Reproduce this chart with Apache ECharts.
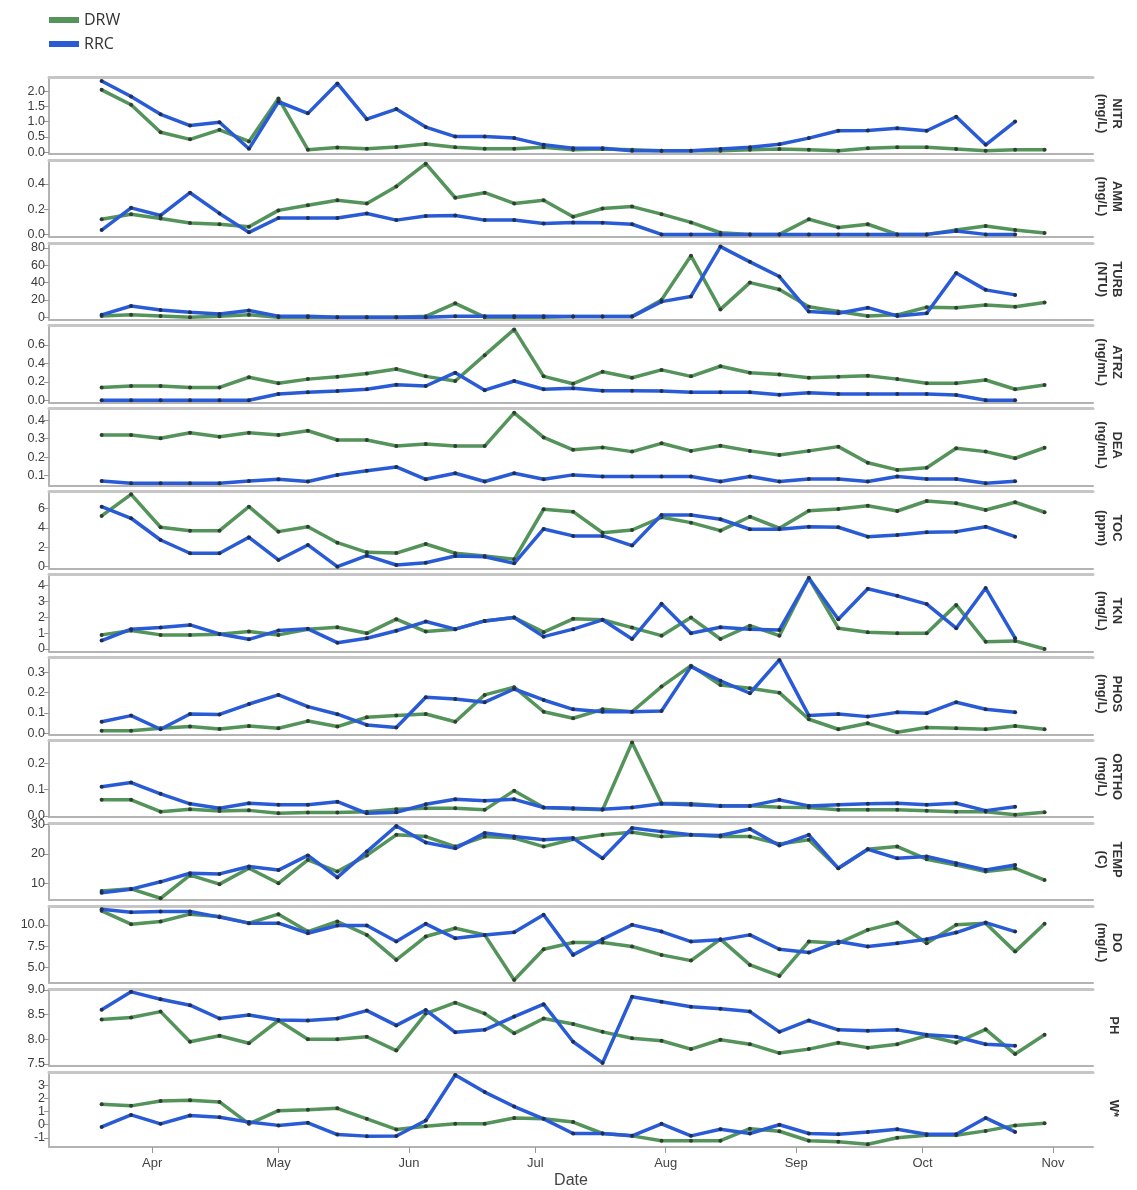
<!DOCTYPE html>
<html>
<head>
<meta charset="UTF-8">
<title>DRW / RRC water quality</title>
<script src="https://cdn.jsdelivr.net/npm/echarts@6/dist/echarts.min.js"></script>
</head>
<body style="margin:0;background:#fff;">
<div id="main" style="width:1137px;height:1190px;"></div>
<script>
// sample dates (weekly), month-day
var dates = ['03-20', '03-27', '04-03', '04-10', '04-17', '04-24', '05-01', '05-08', '05-15', '05-22', '05-29',
    '06-05', '06-12', '06-19', '06-26', '07-03', '07-10', '07-17', '07-24', '07-31', '08-07', '08-14',
    '08-21', '08-28', '09-04', '09-11', '09-18', '09-25', '10-02', '10-09', '10-16', '10-23', '10-30'];

var monthLabels = ['Apr', 'May', 'Jun', 'Jul', 'Aug', 'Sep', 'Oct', 'Nov'];
var monthStarts = ['04-01', '05-01', '06-01', '07-01', '08-01', '09-01', '10-01', '11-01'];

var panelNames = ['NITR', 'AMM', 'TURB', 'ATRZ', 'DEA', 'TOC', 'TKN', 'PHOS', 'ORTHO', 'TEMP', 'DO', 'PH', 'W*'];
var panelUnits = ['(mg/L)', '(mg/L)', '(NTU)', '(ng/mL)', '(ng/mL)', '(ppm)', '(mg/L)', '(mg/L)', '(mg/L)', '(C)', '(mg/L)', '', ''];

// y tick labels of each panel
var yTicks = [
    [0, 0.5, 1, 1.5, 2],
    [0, 0.2, 0.4],
    [0, 20, 40, 60, 80],
    [0, 0.2, 0.4, 0.6],
    [0.1, 0.2, 0.3, 0.4],
    [0, 2, 4, 6],
    [0, 1, 2, 3, 4],
    [0, 0.1, 0.2, 0.3],
    [0, 0.1, 0.2],
    [10, 20, 30],
    [5, 7.5, 10],
    [7.5, 8, 8.5, 9],
    [-1, 0, 1, 2, 3]
];
var yDecimals = [1, 1, 0, 1, 1, 0, 0, 1, 1, 0, 1, 1, 0];
// y extents of each panel
var yMin = [-0.06, -0.02, -3, -0.026, 0.046, -0.19, -0.15, -0.005, -0.005, 4.27, 3.22, 7.46, -1.7];
var yMax = [2.46, 0.59, 86, 0.81, 0.463, 7.75, 4.7, 0.374, 0.288, 30.5, 12.2, 9.02, 4.04];

// DRW values (33 samples), RRC values (32 samples)
var NITR_DRW = [2.04, 1.55, 0.65, 0.42, 0.73, 0.35, 1.76, 0.08, 0.15, 0.11, 0.17, 0.27, 0.16, 0.11, 0.11, 0.16, 0.08, 0.1, 0.08, 0.05, 0.05, 0.05, 0.08, 0.1, 0.08, 0.05, 0.13, 0.16, 0.16, 0.1, 0.05, 0.08, 0.08];
var NITR_RRC = [2.33, 1.82, 1.24, 0.87, 0.98, 0.11, 1.65, 1.27, 2.25, 1.08, 1.41, 0.82, 0.51, 0.51, 0.46, 0.24, 0.13, 0.13, 0.05, 0.05, 0.05, 0.1, 0.16, 0.26, 0.46, 0.7, 0.71, 0.78, 0.7, 1.16, 0.24, 1.0];
var AMM_DRW = [0.12, 0.16, 0.126, 0.09, 0.08, 0.06, 0.19, 0.23, 0.27, 0.245, 0.38, 0.56, 0.29, 0.33, 0.245, 0.27, 0.14, 0.205, 0.22, 0.16, 0.095, 0.013, 0, 0, 0.12, 0.055, 0.08, 0, 0, 0.034, 0.066, 0.034, 0.01];
var AMM_RRC = [0.034, 0.21, 0.15, 0.33, 0.166, 0.016, 0.13, 0.13, 0.13, 0.166, 0.113, 0.145, 0.15, 0.113, 0.113, 0.087, 0.095, 0.092, 0.08, 0, 0, 0, 0, 0, 0, 0, 0, 0, 0, 0.026, 0, 0];
var TURB_DRW = [1.5, 2.7, 1.5, 0, 1, 2.7, 0, 0, 0, 0, 0, 1, 16, 0, 0, 0, 0.7, 0.7, 0.7, 20, 71, 9, 40, 32, 12, 6.5, 1.5, 2.7, 11.5, 11, 14, 12, 17];
var TURB_RRC = [2.7, 13, 8.4, 5.8, 3.8, 7.7, 1, 1, 0, 0, 0, 0, 1, 1, 1, 1, 0.7, 0.7, 0.7, 18, 24, 81.6, 64, 47, 6.5, 4.6, 11, 1.5, 4.6, 51, 31.6, 25.8];
var ATRZ_DRW = [0.14, 0.155, 0.155, 0.14, 0.14, 0.25, 0.185, 0.23, 0.256, 0.29, 0.34, 0.26, 0.21, 0.49, 0.77, 0.26, 0.18, 0.31, 0.245, 0.33, 0.26, 0.37, 0.3, 0.28, 0.245, 0.255, 0.267, 0.23, 0.185, 0.185, 0.22, 0.12, 0.166];
var ATRZ_RRC = [0, 0, 0, 0, 0, 0, 0.068, 0.087, 0.1, 0.12, 0.17, 0.155, 0.3, 0.11, 0.21, 0.12, 0.13, 0.105, 0.105, 0.1, 0.087, 0.087, 0.087, 0.06, 0.083, 0.068, 0.068, 0.068, 0.068, 0.058, 0, 0];
var DEA_DRW = [0.32, 0.32, 0.302, 0.332, 0.31, 0.332, 0.32, 0.343, 0.293, 0.293, 0.26, 0.271, 0.26, 0.26, 0.44, 0.307, 0.24, 0.253, 0.23, 0.275, 0.234, 0.262, 0.234, 0.212, 0.234, 0.257, 0.17, 0.131, 0.143, 0.248, 0.23, 0.194, 0.251];
var DEA_RRC = [0.071, 0.059, 0.059, 0.059, 0.059, 0.071, 0.08, 0.068, 0.104, 0.127, 0.147, 0.08, 0.113, 0.068, 0.113, 0.08, 0.104, 0.095, 0.095, 0.095, 0.095, 0.068, 0.095, 0.068, 0.082, 0.082, 0.068, 0.095, 0.082, 0.082, 0.059, 0.07];
var TOC_DRW = [5.23, 7.46, 4.06, 3.71, 3.71, 6.19, 3.61, 4.12, 2.47, 1.48, 1.4, 2.34, 1.38, 1.1, 0.76, 5.92, 5.67, 3.5, 3.78, 5.09, 4.54, 3.71, 5.15, 3.96, 5.77, 5.95, 6.29, 5.74, 6.77, 6.53, 5.84, 6.64, 5.61];
var TOC_RRC = [6.19, 4.99, 2.75, 1.38, 1.38, 3.03, 0.69, 2.24, 0, 1.13, 0.17, 0.41, 1.1, 1.03, 0.34, 3.89, 3.17, 3.17, 2.17, 5.33, 5.33, 4.89, 3.86, 3.86, 4.12, 4.06, 3.09, 3.27, 3.54, 3.61, 4.12, 3.09];
var TKN_DRW = [0.89, 1.16, 0.89, 0.89, 0.93, 1.1, 0.89, 1.25, 1.37, 0.99, 1.88, 1.1, 1.25, 1.77, 1.98, 1.06, 1.9, 1.84, 1.35, 0.84, 1.98, 0.63, 1.47, 0.84, 4.47, 1.31, 1.06, 0.99, 0.99, 2.78, 0.46, 0.51, 0.0];
var TKN_RRC = [0.53, 1.25, 1.35, 1.52, 0.95, 0.61, 1.16, 1.27, 0.4, 0.68, 1.15, 1.73, 1.25, 1.77, 1.98, 0.78, 1.25, 1.84, 0.63, 2.85, 0.99, 1.37, 1.25, 1.2, 4.47, 1.88, 3.8, 3.35, 2.83, 1.31, 3.84, 0.68];
var PHOS_DRW = [0.013, 0.013, 0.025, 0.033, 0.021, 0.036, 0.025, 0.06, 0.033, 0.079, 0.087, 0.095, 0.057, 0.189, 0.227, 0.106, 0.074, 0.118, 0.106, 0.23, 0.333, 0.238, 0.222, 0.2, 0.069, 0.02, 0.049, 0.005, 0.028, 0.025, 0.02, 0.036, 0.02];
var PHOS_RRC = [0.057, 0.087, 0.02, 0.095, 0.093, 0.144, 0.189, 0.131, 0.094, 0.041, 0.028, 0.177, 0.169, 0.153, 0.218, 0.164, 0.118, 0.106, 0.106, 0.11, 0.328, 0.258, 0.197, 0.361, 0.087, 0.095, 0.082, 0.103, 0.099, 0.153, 0.118, 0.103];
var ORTHO_DRW = [0.061, 0.061, 0.016, 0.025, 0.019, 0.021, 0.01, 0.013, 0.013, 0.016, 0.025, 0.029, 0.029, 0.023, 0.096, 0.032, 0.027, 0.023, 0.279, 0.048, 0.046, 0.039, 0.039, 0.033, 0.032, 0.023, 0.023, 0.023, 0.02, 0.016, 0.016, 0.004, 0.014];
var ORTHO_RRC = [0.111, 0.127, 0.084, 0.046, 0.029, 0.048, 0.042, 0.042, 0.054, 0.01, 0.014, 0.044, 0.063, 0.058, 0.063, 0.032, 0.029, 0.025, 0.032, 0.046, 0.042, 0.038, 0.038, 0.061, 0.038, 0.042, 0.046, 0.048, 0.042, 0.048, 0.02, 0.035];
var TEMP_DRW = [7.4, 8.1, 4.9, 12.8, 9.7, 15.1, 10, 18, 14, 19.5, 26.5, 25.9, 22.5, 25.9, 25.4, 22.5, 25, 26.5, 27.4, 25.9, 26.5, 25.9, 25.9, 23.4, 24.8, 15.1, 21.6, 22.5, 18.2, 16.2, 14, 15.1, 11.1];
var TEMP_RRC = [6.8, 8, 10.5, 13.4, 13.2, 15.7, 14.5, 19.5, 12, 20.8, 29.5, 23.9, 21.9, 27.1, 25.9, 24.8, 25.4, 18.5, 28.8, 27.6, 26.5, 26.3, 28.5, 22.9, 26.5, 15.1, 21.6, 18.5, 19.1, 16.8, 14.5, 16.2];
var DO_DRW = [11.64, 10.08, 10.39, 11.25, 10.97, 10.2, 11.25, 9.22, 10.39, 8.83, 5.91, 8.64, 9.61, 8.83, 3.57, 7.16, 7.94, 7.94, 7.47, 6.5, 5.83, 8.33, 5.33, 4.04, 8.05, 7.86, 9.42, 10.27, 7.86, 10, 10.2, 6.88, 10.12];
var DO_RRC = [11.83, 11.48, 11.56, 11.56, 10.9, 10.2, 10.2, 9.03, 9.92, 9.92, 8.05, 10.12, 8.44, 8.83, 9.14, 11.17, 6.5, 8.33, 10, 9.22, 8.05, 8.25, 8.83, 7.16, 6.77, 8.05, 7.47, 7.86, 8.33, 9.1, 10.27, 9.22];
var PH_DRW = [8.4, 8.44, 8.56, 7.95, 8.07, 7.92, 8.38, 8.0, 8.0, 8.05, 7.77, 8.52, 8.74, 8.52, 8.12, 8.42, 8.31, 8.15, 8.02, 7.97, 7.8, 7.99, 7.9, 7.72, 7.8, 7.93, 7.83, 7.9, 8.07, 7.93, 8.2, 7.7, 8.09];
var PH_RRC = [8.6, 8.96, 8.81, 8.69, 8.42, 8.49, 8.39, 8.38, 8.42, 8.58, 8.28, 8.59, 8.14, 8.19, 8.46, 8.71, 7.95, 7.52, 8.86, 8.76, 8.66, 8.62, 8.56, 8.15, 8.38, 8.19, 8.17, 8.19, 8.09, 8.05, 7.9, 7.87];
var W_DRW = [1.57, 1.44, 1.81, 1.87, 1.74, 0.07, 1.07, 1.14, 1.25, 0.45, -0.36, -0.12, 0.07, 0.07, 0.52, 0.45, 0.2, -0.67, -0.85, -1.22, -1.22, -1.22, -0.3, -0.5, -1.22, -1.3, -1.49, -1.0, -0.8, -0.8, -0.47, -0.05, 0.12];
var W_RRC = [-0.17, 0.75, 0.07, 0.7, 0.57, 0.2, -0.05, 0.15, -0.75, -0.87, -0.86, 0.32, 3.8, 2.49, 1.39, 0.45, -0.67, -0.67, -0.85, 0.07, -0.85, -0.35, -0.67, 0.0, -0.67, -0.72, -0.55, -0.35, -0.72, -0.72, 0.52, -0.55];

var drwData = [NITR_DRW, AMM_DRW, TURB_DRW, ATRZ_DRW, DEA_DRW, TOC_DRW, TKN_DRW, PHOS_DRW, ORTHO_DRW, TEMP_DRW, DO_DRW, PH_DRW, W_DRW];
var rrcData = [NITR_RRC, AMM_RRC, TURB_RRC, ATRZ_RRC, DEA_RRC, TOC_RRC, TKN_RRC, PHOS_RRC, ORTHO_RRC, TEMP_RRC, DO_RRC, PH_RRC, W_RRC];

var GREEN = '#54935a';
var BLUE = '#2a5bd6';

// 'MM-DD' -> day of year (non leap)
var cumDays = [0, 31, 59, 90, 120, 151, 181, 212, 243, 273, 304, 334];
function dayOfYear(s) {
    var p = s.split('-');
    return cumDays[parseInt(p[0], 10) - 1] + parseInt(p[1], 10);
}
var xDays = dates.map(dayOfYear);
var monthDays = monthStarts.map(dayOfYear);

function pairs(vals) {
    var out = [];
    for (var k = 0; k < vals.length; k++) {
        if (vals[k] !== null) out.push([xDays[k], vals[k]]);
    }
    return out;
}

// panel layout
var PANEL_TOP = 77, PANEL_STEP = 82.9, PANEL_H = 77;
var X_MIN = 66.5, X_MAX = 314.5;
var labelFont = "'Liberation Sans Narrow', 'Liberation Sans', Arial, sans-serif";

var grids = [], xAxes = [], yAxes = [], series = [], graphics = [];
var n = panelNames.length;

for (var i = 0; i < n; i++) {
    var panelTop = PANEL_TOP + PANEL_STEP * i;
    var last = (i === n - 1);
    grids.push({left: 49, right: 44, top: panelTop, height: PANEL_H});

    // bottom axis
    xAxes.push({
        type: 'value', gridIndex: i, min: X_MIN, max: X_MAX,
        axisLine: {onZero: false, lineStyle: {color: '#b3b3b3', width: 2}},
        axisTick: {show: last, customValues: monthDays, length: 6, lineStyle: {color: '#999'}},
        axisLabel: {
            show: last, customValues: monthDays, margin: 10,
            color: '#444', fontSize: 13, fontFamily: labelFont,
            formatter: function (v) { return monthLabels[monthDays.indexOf(v)]; }
        },
        splitLine: {show: false},
        name: last ? 'Date' : '', nameLocation: 'middle', nameGap: 26,
        nameTextStyle: {color: '#444', fontSize: 16, fontFamily: labelFont}
    });
    // top border line
    xAxes.push({
        type: 'value', gridIndex: i, position: 'top', min: X_MIN, max: X_MAX,
        axisLine: {onZero: false, lineStyle: {color: '#c6c6c6', width: 3}},
        axisTick: {show: false}, axisLabel: {show: false}, splitLine: {show: false}
    });

    (function (dec) {
        yAxes.push({
            type: 'value', gridIndex: i, min: yMin[i], max: yMax[i],
            axisLine: {show: true, onZero: false, lineStyle: {color: '#b3b3b3', width: 2}},
            axisTick: {show: true, customValues: yTicks[i], length: 5, lineStyle: {color: '#999'}},
            axisLabel: {
                customValues: yTicks[i], margin: 4, color: '#3c3c3c', fontSize: 12.5, fontFamily: labelFont,
                formatter: function (v) { return Number(v).toFixed(dec); }
            },
            splitLine: {show: false}
        });
    })(yDecimals[i]);

    series.push({
        name: 'DRW', type: 'line', xAxisIndex: 2 * i, yAxisIndex: i,
        data: pairs(drwData[i]),
        color: GREEN,
        lineStyle: {color: GREEN, width: 3.5},
        symbol: 'circle', symbolSize: 4, itemStyle: {color: '#2f3f30'},
        emphasis: {disabled: true}, z: 2
    });
    series.push({
        name: 'RRC', type: 'line', xAxisIndex: 2 * i, yAxisIndex: i,
        data: pairs(rrcData[i]),
        color: BLUE,
        lineStyle: {color: BLUE, width: 3.5},
        symbol: 'circle', symbolSize: 4, itemStyle: {color: '#1f2f50'},
        emphasis: {disabled: true}, z: 3
    });

    // strip label on the right, rotated
    var txt = panelNames[i] + (panelUnits[i] ? '\n' + panelUnits[i] : '');
    graphics.push({
        type: 'text',
        x: panelUnits[i] ? 1109 : 1114,
        y: panelTop + PANEL_H / 2 - 2,
        rotation: -Math.PI / 2,
        style: {
            text: txt, fill: '#333', fontSize: 13, fontWeight: 'bold', lineHeight: 15,
            fontFamily: labelFont,
            textAlign: 'center', textVerticalAlign: 'middle', align: 'center', verticalAlign: 'middle'
        }
    });
}

var chart = echarts.init(document.getElementById('main'), null, {renderer: 'canvas'});
chart.setOption({
    animation: false,
    backgroundColor: '#fff',
    legend: {
        left: 44, top: 7, orient: 'vertical',
        itemWidth: 30, itemHeight: 6, itemGap: 8, icon: 'rect',
        textStyle: {fontSize: 16, color: '#333', fontFamily: "'Open Sans', sans-serif"},
        data: [
            {name: 'DRW', itemStyle: {color: GREEN}, lineStyle: {color: GREEN, width: 6}},
            {name: 'RRC', itemStyle: {color: BLUE}, lineStyle: {color: BLUE, width: 6}}
        ]
    },
    grid: grids,
    xAxis: xAxes,
    yAxis: yAxes,
    series: series,
    graphic: graphics
});
</script>
</body>
</html>
